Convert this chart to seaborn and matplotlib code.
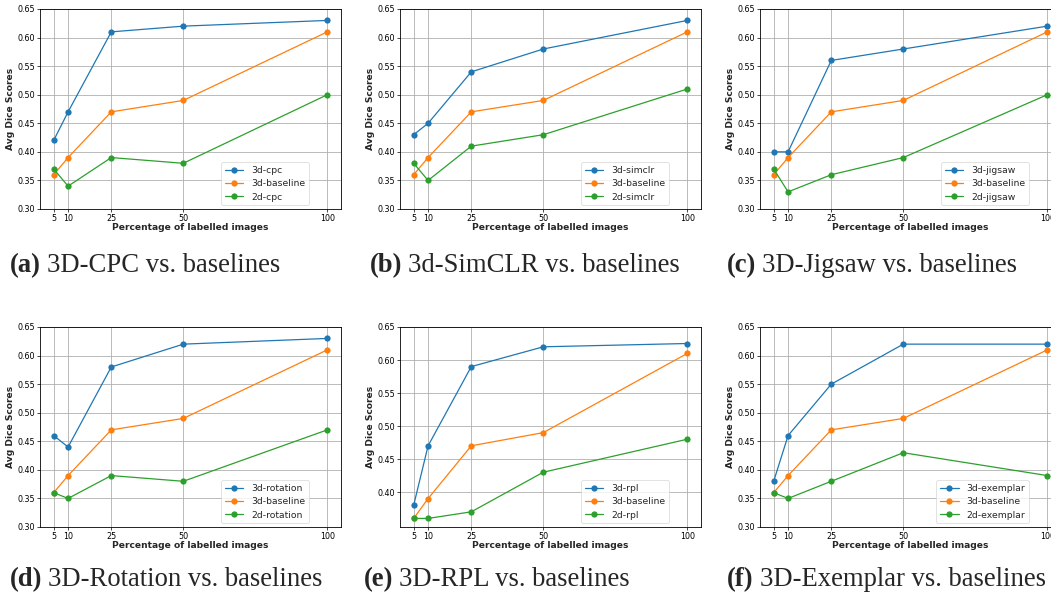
import numpy as np
import pandas as pd
import matplotlib
matplotlib.use("Agg")
import matplotlib.pyplot as plt
import seaborn as sns

x_pct = [5, 10, 25, 50, 100]
baseline_3d = [0.36, 0.39, 0.47, 0.49, 0.61]

cpc_3d = [0.42, 0.47, 0.61, 0.62, 0.63]
cpc_2d = [0.37, 0.34, 0.39, 0.38, 0.50]
simclr_3d = [0.43, 0.45, 0.54, 0.58, 0.63]
simclr_2d = [0.38, 0.35, 0.41, 0.43, 0.51]
jigsaw_3d = [0.40, 0.40, 0.56, 0.58, 0.62]
jigsaw_2d = [0.37, 0.33, 0.36, 0.39, 0.50]
rotation_3d = [0.46, 0.44, 0.58, 0.62, 0.63]
rotation_2d = [0.36, 0.35, 0.39, 0.38, 0.47]
rpl_3d = [0.38, 0.47, 0.59, 0.62, 0.625]
rpl_2d = [0.36, 0.36, 0.37, 0.43, 0.48]
exemplar_3d = [0.38, 0.46, 0.55, 0.62, 0.62]
exemplar_2d = [0.36, 0.35, 0.38, 0.43, 0.39]

panel_names = ["cpc", "simclr", "jigsaw", "rotation", "rpl", "exemplar"]
panel_3d = [cpc_3d, simclr_3d, jigsaw_3d, rotation_3d, rpl_3d, exemplar_3d]
panel_2d = [cpc_2d, simclr_2d, jigsaw_2d, rotation_2d, rpl_2d, exemplar_2d]
captions_bold = ["(a)", "(b)", "(c)", "(d)", "(e)", "(f)"]
captions = ["3D-CPC vs. baselines", "3d-SimCLR vs. baselines", "3D-Jigsaw vs. baselines",
            "3D-Rotation vs. baselines", "3D-RPL vs. baselines", "3D-Exemplar vs. baselines"]
y_ticks_full = [0.30, 0.35, 0.40, 0.45, 0.50, 0.55, 0.60, 0.65]

sns.set_style("ticks")
plt.rcParams["font.family"] = ["DejaVu Sans"]

W, H = 1051, 599
fig = plt.figure(figsize=(W / 100, H / 100), dpi=100)

# axes rectangles in pixels: left, top, right, bottom
rects = [(40, 9, 341, 209), (400, 9, 701, 209), (760, 9, 1061, 209),
         (40, 327, 341, 527), (400, 327, 701, 527), (760, 327, 1061, 527)]
cap_pos = [(10, 272), (370, 272), (727, 272), (10, 586), (364, 586), (727, 586)]

palette = ["#1f77b4", "#ff7f0e", "#2ca02c"]
fs = 5.8
lfs = 6.7
cap_fs = 19.2

for i, name in enumerate(panel_names):
    l, t, r, b = rects[i]
    ax = fig.add_axes([l / W, 1 - b / H, (r - l) / W, (b - t) / H])
    labels = [f"3d-{name}", "3d-baseline", f"2d-{name}"]
    df = pd.DataFrame({
        "x": x_pct * 3,
        "y": panel_3d[i] + baseline_3d + panel_2d[i],
        "series": [labels[0]] * 5 + [labels[1]] * 5 + [labels[2]] * 5,
    })
    sns.lineplot(data=df, x="x", y="y", hue="series", hue_order=labels,
                 palette=palette, marker="o", markersize=4.5, linewidth=0.9,
                 markeredgewidth=0, ax=ax)
    ax.set_xlim(0.25, 104.75)
    if name == "rpl":
        ax.set_ylim(0.347, 0.65)
        ax.set_yticks(y_ticks_full[2:])
    else:
        ax.set_ylim(0.30, 0.65)
        ax.set_yticks(y_ticks_full)
    ax.set_xticks(x_pct)
    ax.set_xticklabels([str(v) for v in x_pct])
    ax.set_yticklabels([f"{v:.2f}" for v in ax.get_yticks()])
    ax.grid(True, color="#b0b0b0", linewidth=0.6)
    ax.tick_params(labelsize=fs, length=2, width=0.5, pad=1.5, colors="black")
    for sp in ax.spines.values():
        sp.set_linewidth(0.6)
        sp.set_color("black")
    ax.set_xlabel("Percentage of labelled images", fontsize=6.6, fontweight="bold", labelpad=0)
    ax.set_ylabel("Avg Dice Scores", fontsize=6.6, fontweight="bold", labelpad=2)
    leg = ax.legend(loc="lower right", bbox_to_anchor=(0.905, 0.0), fontsize=lfs,
                    frameon=True, borderpad=0.4, handlelength=2.0, labelspacing=0.45,
                    borderaxespad=0.4)
    leg.get_frame().set_linewidth(0.5)
    leg.get_frame().set_edgecolor("#cccccc")

    cx, cy = cap_pos[i]
    tb = fig.text(cx / W, 1 - cy / H, captions_bold[i], fontsize=cap_fs,
                  fontweight="bold", family="Liberation Serif", ha="left", va="baseline")
    fig.canvas.draw()
    bb = tb.get_window_extent()
    fig.text((bb.x1 + 6) / W, 1 - cy / H, captions[i], fontsize=cap_fs,
             family="Liberation Serif", ha="left", va="baseline")

fig.savefig("out.png", dpi=100)
